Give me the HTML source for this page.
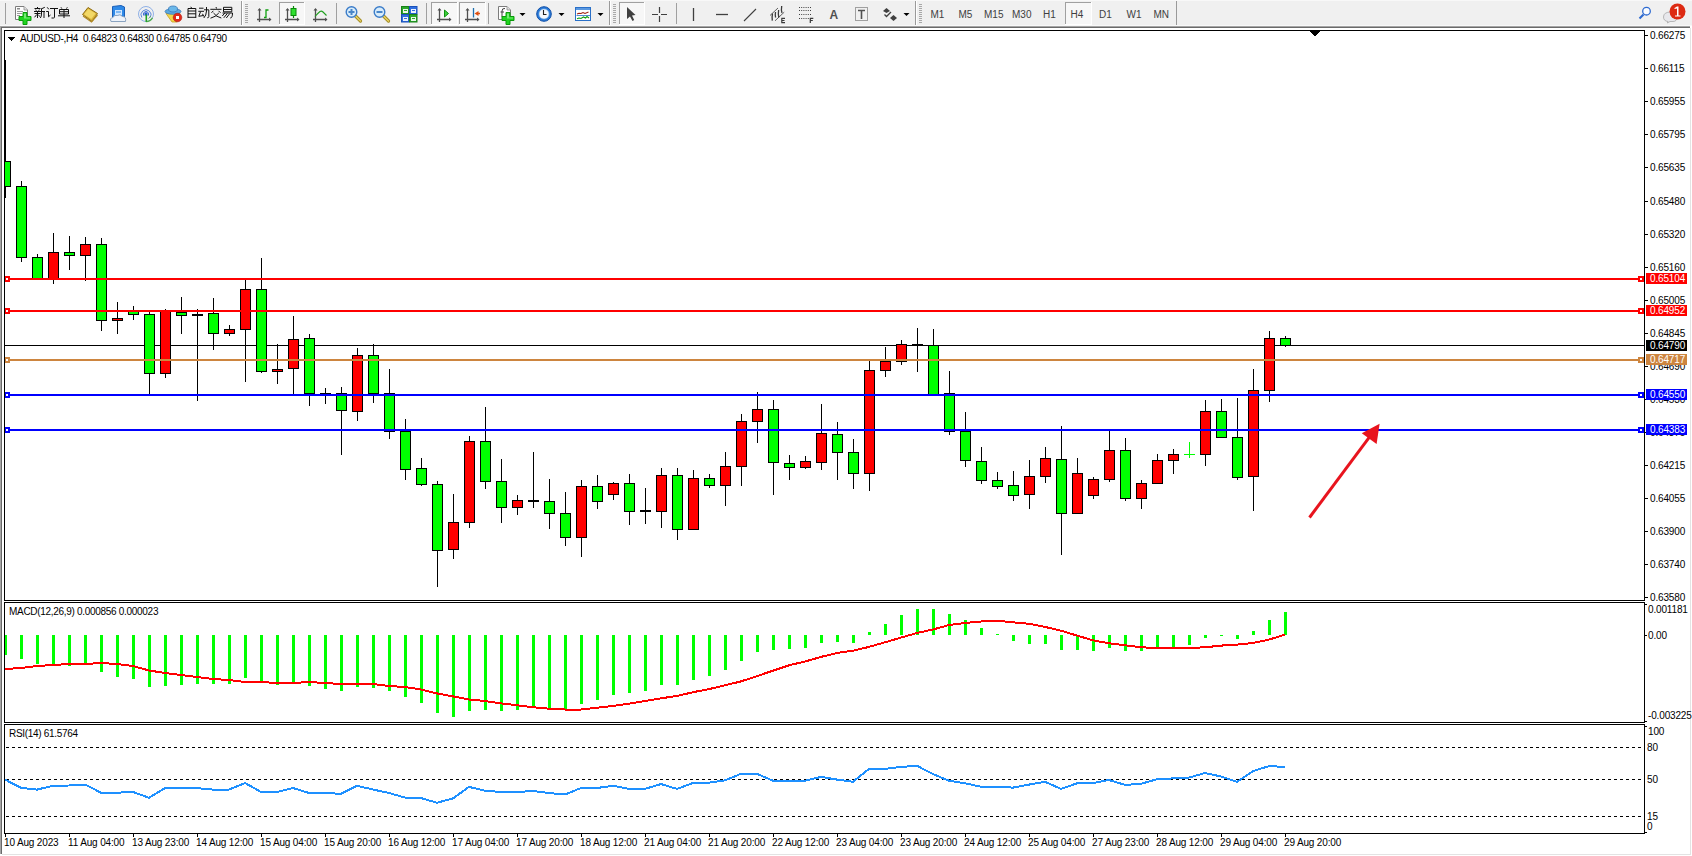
<!DOCTYPE html>
<html><head><meta charset="utf-8"><style>
html,body{margin:0;padding:0;}
body{width:1692px;height:856px;position:relative;overflow:hidden;background:#fff;font-family:"Liberation Sans",sans-serif;}
#tb{position:absolute;left:0;top:0;width:1692px;height:26px;background:#f0f0f0;}
.t{position:absolute;font-size:10px;line-height:12px;letter-spacing:-0.15px;color:#000;white-space:nowrap;}
.w{color:#fff;}
svg{position:absolute;left:0;top:0;}
</style></head><body>
<div id="tb"><svg width="1692" height="26" style="position:absolute;left:0;top:0"><rect x="0" y="0" width="1692" height="1" fill="#f8f8f8"/><rect x="5" y="3" width="1" height="21" fill="#a0a0a0"/><path d="M15.5 6.5 H24 L27.5 10 V19.5 H15.5 Z" fill="#fdfdfd" stroke="#7c7c7c" stroke-width="1"/><path d="M24 6.5 V10 H27.5" fill="#e0e0e0" stroke="#8a8a8a" stroke-width="0.8"/><rect x="17" y="8" width="3" height="1.5" fill="#8a8a8a"/><rect x="17" y="11" width="6" height="1" fill="#9a9a9a"/><rect x="17" y="13" width="5" height="1" fill="#9a9a9a"/><rect x="17" y="15" width="3" height="1" fill="#9a9a9a"/><path d="M23 12.5 H27 V16.5 H31 V20.5 H27 V24.5 H23 V20.5 H19 V16.5 H23 Z" fill="#1fd41f" stroke="#0b9a0b" stroke-width="1"/><path d="M24 13.5 H26 V17.5 H30 V18.5 H24 Z" fill="#8cf08c" opacity="0.8"/><path d="M37.5 7 V8.5 M34.5 8.5 H40.5 M35.7 9.5 L36.3 10.8 M39.3 9.5 L38.7 10.8 M34 11.5 H41 M34.5 13.5 H40.5 M37.5 11.5 V18 M36.8 14.5 L34.5 17.3 M38.3 15 L40.3 16.8 M44.8 7.3 L41.5 8.8 M41.5 8.5 V14 Q41.5 16.8 40.3 18 M41.5 11.5 H45 M44 11.5 V18 M47.2 7.3 L48.8 9.3 M46.2 11.5 H48.5 V16.8 L50.5 15 M50 8.5 H58 M54.5 8.5 V17.3 Q54.5 18 53.5 18 H51.5 M61 7.3 L61.8 8.6 M67.3 7.3 L66.5 8.6 M59.5 9.5 H68.5 V14 H59.5 Z M59.5 11.7 H68.5 M64 9.5 V18 M58 15.8 H70" stroke="#111" stroke-width="1" fill="none"/><path d="M82.5 14.5 L88 7.5 L97.5 13.5 L92 21.5 Z" fill="#d9b43a" stroke="#8f6c12" stroke-width="1"/><path d="M84 14.3 L88.3 9 L95.5 13.5 L91.3 19 Z" fill="#f2d867"/><path d="M83 16 L91.5 22 L97.5 15" stroke="#b08a28" stroke-width="1.2" fill="none"/><path d="M112.5 6.5 L121 5.5 L124.5 7 V17 H112.5 Z" fill="#2f8ae8" stroke="#1b5fb8" stroke-width="1"/><rect x="115" y="10" width="7" height="5" fill="#cfe6ff"/><rect x="116" y="11.5" width="5" height="1" fill="#2f8ae8"/><path d="M111 21.5 Q109.5 18 113 17.5 Q114 14.5 117.5 15.5 Q120 13.5 122.5 16.5 Q126.5 16.5 125.5 21.5 Z" fill="#eef3fa" stroke="#8aa3c0" stroke-width="1"/><g fill="none"><circle cx="146" cy="14" r="7.5" stroke="#8fb0e6" stroke-width="1"/><path d="M152.5 17.8 A7.5 7.5 0 0 1 146 21.5" stroke="#4fae4f" stroke-width="1.4"/><path d="M141.8 17.5 A5 5 0 1 1 150.2 17.5" stroke="#5c88da" stroke-width="1"/><path d="M150.6 16 A5 5 0 0 1 148.5 18.4" stroke="#5fae5f" stroke-width="1"/><path d="M144 15.8 A2.6 2.6 0 1 1 148 15.8" stroke="#3b6fd0" stroke-width="1"/></g><circle cx="146" cy="14" r="1.7" fill="#2a5ad0"/><path d="M146.3 14.5 V21.8" stroke="#20a020" stroke-width="1.6" fill="none"/><path d="M166 13.5 L172 22 H177 L180 13.5 Z" fill="#f2d64a" stroke="#c9a020" stroke-width="0.8"/><ellipse cx="173" cy="11.5" rx="8" ry="2.8" fill="#5aa8e0" stroke="#3a78b8" stroke-width="0.8"/><ellipse cx="173" cy="9" rx="4.5" ry="3" fill="#6ab8ea" stroke="#3a78b8" stroke-width="0.8"/><circle cx="177.5" cy="17.5" r="4.3" fill="#e02a1a" stroke="#b01a10" stroke-width="0.6"/><rect x="176" y="16" width="3" height="3" fill="#fff"/><path d="M190.8 6.8 L191.5 8 M188 8.5 H195.8 V18 M188 8.5 V18 M188 11 H195.8 M188 13.8 H195.8 M188 17.3 H195.8 M199 8.2 H203.5 M198.3 11.3 H204 M200.5 11.8 L198.8 16.3 L203.5 15.5 M202.5 13.8 L203.8 16.5 M204 9.8 H208.8 V16.5 Q208.8 17.8 207.3 17.8 M206.5 7 V11 Q206.3 15.5 203.8 18 M216 7 L216.5 8.5 M210.3 9.3 H221.5 M213.3 10.8 L211.5 12.8 M218.5 10.8 L220.5 12.8 M213.5 13 Q216 16.8 221.3 18 M218.8 13 Q216 16.8 210.5 18.2 M223.5 7.3 H231.8 V11.8 H223.5 Z M223.5 9.5 H231.8 M222.5 13 H232.5 Q232.5 18 230.3 18 M224.8 13 L222.3 16 M227.3 13.5 L223.8 17.8 M229.8 13.5 L226.3 18" stroke="#111" stroke-width="1" fill="none"/><rect x="241" y="1" width="1" height="24" fill="#9a9a9a"/><rect x="242" y="1" width="1" height="24" fill="#ffffff"/><rect x="245" y="4" width="3" height="1" fill="#a8a8a8"/><rect x="245" y="6" width="3" height="1" fill="#a8a8a8"/><rect x="245" y="8" width="3" height="1" fill="#a8a8a8"/><rect x="245" y="10" width="3" height="1" fill="#a8a8a8"/><rect x="245" y="12" width="3" height="1" fill="#a8a8a8"/><rect x="245" y="14" width="3" height="1" fill="#a8a8a8"/><rect x="245" y="16" width="3" height="1" fill="#a8a8a8"/><rect x="245" y="18" width="3" height="1" fill="#a8a8a8"/><rect x="245" y="20" width="3" height="1" fill="#a8a8a8"/><rect x="245" y="22" width="3" height="1" fill="#a8a8a8"/><path d="M259.5 9 V22 M257 19.5 H270.5" stroke="#505050" stroke-width="1.3" fill="none"/><path d="M257.5 10.5 L259.5 8 L261.5 10.5 Z M269 17.5 L271.5 19.5 L269 21.5 Z" fill="#505050"/><path d="M264 17.5 H266 V10 H268.5" stroke="#10a010" stroke-width="1.3" fill="none"/><rect x="279" y="2" width="25" height="22" fill="#f7f7f7"/><rect x="279" y="2" width="25" height="1" fill="#a0a0a0"/><rect x="279" y="2" width="1" height="22" fill="#a0a0a0"/><rect x="304" y="2" width="1" height="22" fill="#ffffff"/><rect x="279" y="24" width="26" height="1" fill="#ffffff"/><path d="M287.5 9 V22 M285 19.5 H298.5" stroke="#505050" stroke-width="1.3" fill="none"/><path d="M285.5 10.5 L287.5 8 L289.5 10.5 Z M297 17.5 L299.5 19.5 L297 21.5 Z" fill="#505050"/><path d="M293.5 6 V18" stroke="#0a8a0a" stroke-width="1.2" fill="none"/><rect x="291" y="8.5" width="5" height="7" fill="#2ee02e" stroke="#0a8a0a" stroke-width="1"/><path d="M315.5 9 V22 M313 19.5 H326.5" stroke="#505050" stroke-width="1.3" fill="none"/><path d="M313.5 10.5 L315.5 8 L317.5 10.5 Z M325 17.5 L327.5 19.5 L325 21.5 Z" fill="#505050"/><path d="M315 16.5 Q318 13 320 11.5 Q321.5 10.5 323 12 Q325 14 326.5 15.5" stroke="#20a020" stroke-width="1.1" fill="none"/><rect x="336" y="3" width="1" height="21" fill="#a0a0a0"/><path d="M355.0 15.5 L360.5 21" stroke="#a08a20" stroke-width="3.2" stroke-linecap="round"/><path d="M355.0 15.5 L360.5 21" stroke="#e8d060" stroke-width="1.6" stroke-linecap="round"/><circle cx="351.5" cy="12" r="5.3" fill="#d8ecfa" stroke="#3b7cc9" stroke-width="1.4"/><rect x="348.5" y="11" width="6" height="2" fill="#4a86c8"/><rect x="350.5" y="9" width="2" height="6" fill="#4a86c8"/><path d="M383.0 15.5 L388.5 21" stroke="#a08a20" stroke-width="3.2" stroke-linecap="round"/><path d="M383.0 15.5 L388.5 21" stroke="#e8d060" stroke-width="1.6" stroke-linecap="round"/><circle cx="379.5" cy="12" r="5.3" fill="#d8ecfa" stroke="#3b7cc9" stroke-width="1.4"/><rect x="376.5" y="11" width="6" height="2" fill="#4a86c8"/><rect x="401.5" y="6.5" width="7.5" height="7.5" fill="#2aa82a" stroke="#188018" stroke-width="1"/><rect x="403" y="9" width="5" height="4" fill="#ffffff" opacity="0.9"/><rect x="404" y="10" width="3" height="1" fill="#2aa82a"/><rect x="409.5" y="6.5" width="7.5" height="7.5" fill="#2f6ee0" stroke="#1a50b8" stroke-width="1"/><rect x="411" y="9" width="5" height="4" fill="#ffffff" opacity="0.9"/><rect x="412" y="10" width="3" height="1" fill="#2f6ee0"/><rect x="401.5" y="14.5" width="7.5" height="7.5" fill="#2f6ee0" stroke="#1a50b8" stroke-width="1"/><rect x="403" y="17" width="5" height="4" fill="#ffffff" opacity="0.9"/><rect x="404" y="18" width="3" height="1" fill="#2f6ee0"/><rect x="409.5" y="14.5" width="7.5" height="7.5" fill="#2aa82a" stroke="#188018" stroke-width="1"/><rect x="411" y="17" width="5" height="4" fill="#ffffff" opacity="0.9"/><rect x="412" y="18" width="3" height="1" fill="#2aa82a"/><rect x="426" y="3" width="1" height="21" fill="#a0a0a0"/><rect x="431" y="2" width="26" height="22" fill="#f7f7f7"/><rect x="431" y="2" width="26" height="1" fill="#a0a0a0"/><rect x="431" y="2" width="1" height="22" fill="#a0a0a0"/><rect x="457" y="2" width="1" height="22" fill="#ffffff"/><rect x="431" y="24" width="27" height="1" fill="#ffffff"/><path d="M439.5 9 V22 M437 19.5 H450.5" stroke="#505050" stroke-width="1.3" fill="none"/><path d="M437.5 10.5 L439.5 8 L441.5 10.5 Z M449 17.5 L451.5 19.5 L449 21.5 Z" fill="#505050"/><path d="M444.5 10 L448.5 13.5 L444.5 17 Z" fill="#3ad03a" stroke="#109010" stroke-width="1"/><rect x="459" y="2" width="26" height="22" fill="#f7f7f7"/><rect x="459" y="2" width="26" height="1" fill="#a0a0a0"/><rect x="459" y="2" width="1" height="22" fill="#a0a0a0"/><rect x="485" y="2" width="1" height="22" fill="#ffffff"/><rect x="459" y="24" width="27" height="1" fill="#ffffff"/><path d="M467.5 9 V22 M465 19.5 H478.5" stroke="#505050" stroke-width="1.3" fill="none"/><path d="M465.5 10.5 L467.5 8 L469.5 10.5 Z M477 17.5 L479.5 19.5 L477 21.5 Z" fill="#505050"/><path d="M473.5 8 V17.5" stroke="#1f70b0" stroke-width="1.3" fill="none"/><path d="M474.5 13.5 L478.5 11 V12.8 H480 V14.2 H478.5 V16 Z" fill="#e05010"/><rect x="488" y="3" width="1" height="21" fill="#a0a0a0"/><path d="M498.5 6.5 H507 L510.5 10 V19.5 H498.5 Z" fill="#fdfdfd" stroke="#7c7c7c" stroke-width="1"/><path d="M507 6.5 V10 H510.5" fill="#e0e0e0" stroke="#8a8a8a" stroke-width="0.8"/><path d="M505 8.5 Q502 8 502 11 V17 M500.5 12 H504" stroke="#404040" stroke-width="1" fill="none"/><path d="M506 12.5 H510 V16.5 H514 V20.5 H510 V24.5 H506 V20.5 H502 V16.5 H506 Z" fill="#1fd41f" stroke="#0b9a0b" stroke-width="1"/><path d="M507 13.5 H509 V17.5 H513 V18.5 H507 Z" fill="#8cf08c" opacity="0.8"/><path d="M519.5 13 H525.5 L522.5 16 Z" fill="#000"/><circle cx="544" cy="14" r="7.3" fill="#2a7ad8" stroke="#0f4fa8" stroke-width="1"/><circle cx="544" cy="14" r="5" fill="#f4f8fc" stroke="#8ab8e8" stroke-width="0.6"/><path d="M543.5 10 V14.5 H546.5" stroke="#202020" stroke-width="1.1" fill="none"/><path d="M558.5 13 H564.5 L561.5 16 Z" fill="#000"/><rect x="575.5" y="7.5" width="15" height="13" fill="#ffffff" stroke="#2a70c8" stroke-width="1"/><rect x="576" y="8" width="14" height="2" fill="#5a98e0"/><path d="M577 14 L579 13.3 L581 13.5 L583 12.5 L585 13.5 L588.5 12" stroke="#a02010" stroke-width="1.1" fill="none"/><path d="M576.5 15.5 H590" stroke="#2a70c8" stroke-width="0.8" fill="none"/><path d="M577 18.8 L579 18 L581 18.5 L583.5 17 L585.5 18 L587 16.5 L589 18" stroke="#10a010" stroke-width="1.1" fill="none"/><path d="M597.5 13 H603.5 L600.5 16 Z" fill="#000"/><rect x="609" y="1" width="1" height="24" fill="#9a9a9a"/><rect x="610" y="1" width="1" height="24" fill="#ffffff"/><rect x="613" y="4" width="3" height="1" fill="#a8a8a8"/><rect x="613" y="6" width="3" height="1" fill="#a8a8a8"/><rect x="613" y="8" width="3" height="1" fill="#a8a8a8"/><rect x="613" y="10" width="3" height="1" fill="#a8a8a8"/><rect x="613" y="12" width="3" height="1" fill="#a8a8a8"/><rect x="613" y="14" width="3" height="1" fill="#a8a8a8"/><rect x="613" y="16" width="3" height="1" fill="#a8a8a8"/><rect x="613" y="18" width="3" height="1" fill="#a8a8a8"/><rect x="613" y="20" width="3" height="1" fill="#a8a8a8"/><rect x="613" y="22" width="3" height="1" fill="#a8a8a8"/><rect x="619" y="2" width="25" height="22" fill="#f7f7f7"/><rect x="619" y="2" width="25" height="1" fill="#a0a0a0"/><rect x="619" y="2" width="1" height="22" fill="#a0a0a0"/><rect x="644" y="2" width="1" height="22" fill="#ffffff"/><rect x="619" y="24" width="26" height="1" fill="#ffffff"/><path d="M627 7 V19 L630 16.5 L632.5 21 L634.2 20 L632 15.5 L635.5 15 Z" fill="#404040"/><path d="M652 14.5 H658 M661 14.5 H667 M659.5 7 V13 M659.5 16 V22" stroke="#404040" stroke-width="1.2" fill="none"/><rect x="676" y="3" width="1" height="21" fill="#a0a0a0"/><path d="M693.5 8 V21" stroke="#404040" stroke-width="1.3" fill="none"/><path d="M716 14.5 H728" stroke="#404040" stroke-width="1.3" fill="none"/><path d="M744 21 L756 9" stroke="#404040" stroke-width="1.1" fill="none"/><path d="M770 15.5 L778 8 M775 20.8 L784.2 12.2" stroke="#505050" stroke-width="0.9" fill="none"/><path d="M772.5 13.5 Q771.8 17 772.3 20.7 M775.5 12 Q775 15 775.6 17.5 M778.6 10 Q778 14 778.8 17.5 M781.7 6 Q781 10 782 13" stroke="#3a3a3a" stroke-width="1.3" fill="none"/><path d="M781.3 18.3 H785 M781.3 20.5 H784.5 M781.3 22.7 H785 M781.8 18.3 V22.7" stroke="#3a3a3a" stroke-width="1.2" fill="none"/><path d="M799 7.5 H812" stroke="#404040" stroke-width="1" stroke-dasharray="1 1.2"/><path d="M799 10.5 H812" stroke="#404040" stroke-width="1" stroke-dasharray="1 1.2"/><path d="M799 14.5 H812" stroke="#404040" stroke-width="1" stroke-dasharray="1 1.2"/><path d="M799 18.5 H812" stroke="#404040" stroke-width="1" stroke-dasharray="1 1.2"/><path d="M809.8 18.3 H813.3 M809.8 20.5 H812.8 M810.3 18.3 V23" stroke="#3a3a3a" stroke-width="1.2" fill="none"/><text x="829.5" y="19" font-family="Liberation Sans" font-size="12" font-weight="bold" fill="#505050">A</text><rect x="855.5" y="7.5" width="12" height="13" fill="none" stroke="#505050" stroke-width="1" stroke-dasharray="1 1"/><path d="M858 10.5 H865 M861.5 10.5 V19" stroke="#505050" stroke-width="1.6"/><path d="M883 11 L886.5 8 L890 11 L886.5 13 Z" fill="#404040"/><path d="M890 18 L893.5 15 L897 18 L893.5 21 Z" fill="#404040"/><path d="M884.5 14.5 L886.5 16.5 L891 12" stroke="#404040" stroke-width="1.3" fill="none"/><path d="M903.5 13 H909.5 L906.5 16 Z" fill="#000"/><rect x="915" y="1" width="1" height="24" fill="#9a9a9a"/><rect x="916" y="1" width="1" height="24" fill="#ffffff"/><rect x="919" y="4" width="3" height="1" fill="#a8a8a8"/><rect x="919" y="6" width="3" height="1" fill="#a8a8a8"/><rect x="919" y="8" width="3" height="1" fill="#a8a8a8"/><rect x="919" y="10" width="3" height="1" fill="#a8a8a8"/><rect x="919" y="12" width="3" height="1" fill="#a8a8a8"/><rect x="919" y="14" width="3" height="1" fill="#a8a8a8"/><rect x="919" y="16" width="3" height="1" fill="#a8a8a8"/><rect x="919" y="18" width="3" height="1" fill="#a8a8a8"/><rect x="919" y="20" width="3" height="1" fill="#a8a8a8"/><rect x="919" y="22" width="3" height="1" fill="#a8a8a8"/><rect x="1065" y="2" width="26" height="22" fill="#f7f7f7"/><rect x="1065" y="2" width="26" height="1" fill="#a0a0a0"/><rect x="1065" y="2" width="1" height="22" fill="#a0a0a0"/><rect x="1091" y="2" width="1" height="22" fill="#ffffff"/><rect x="1065" y="24" width="27" height="1" fill="#ffffff"/><text x="930.5" y="18.3" font-family="Liberation Sans" font-size="10" letter-spacing="0" fill="#404040">M1</text><text x="958.5" y="18.3" font-family="Liberation Sans" font-size="10" letter-spacing="0" fill="#404040">M5</text><text x="984" y="18.3" font-family="Liberation Sans" font-size="10" letter-spacing="0" fill="#404040">M15</text><text x="1012" y="18.3" font-family="Liberation Sans" font-size="10" letter-spacing="0" fill="#404040">M30</text><text x="1043" y="18.3" font-family="Liberation Sans" font-size="10" letter-spacing="0" fill="#404040">H1</text><text x="1070.5" y="18.3" font-family="Liberation Sans" font-size="10" letter-spacing="0" fill="#404040">H4</text><text x="1099" y="18.3" font-family="Liberation Sans" font-size="10" letter-spacing="0" fill="#404040">D1</text><text x="1126.5" y="18.3" font-family="Liberation Sans" font-size="10" letter-spacing="0" fill="#404040">W1</text><text x="1153.5" y="18.3" font-family="Liberation Sans" font-size="10" letter-spacing="0" fill="#404040">MN</text><rect x="1176" y="1" width="1" height="24" fill="#9a9a9a"/><circle cx="1646.5" cy="11.2" r="3.8" fill="#fafcff" stroke="#2e6ad0" stroke-width="1.3"/><path d="M1643.5 14.5 L1639.5 18.5" stroke="#2e6ad0" stroke-width="2.2" fill="none"/><path d="M1668 21.5 L1667.3 23 L1670 21.5 H1673 Q1677 21.5 1677 17 Q1677 12 1671 12 Q1663.5 12 1663.5 17 Q1663.5 21 1668 21.5 Z" fill="#e8e8ec" stroke="#a8a8a8" stroke-width="0.8"/><circle cx="1677.5" cy="11.5" r="8" fill="#dd2a12"/><path d="M1674.5 8 L1677 6.5 H1678.5 V15.5 H1680.5 V16.5 H1675 V15.5 H1677 V8.5 L1674.5 9 Z" fill="#fff"/></svg></div>
<div style="position:absolute;left:0;top:25px;width:1692px;height:1px;background:#f8f8f8"></div>
<div style="position:absolute;left:0;top:26px;width:1690px;height:1px;background:#a5a5a5"></div>
<div style="position:absolute;left:0;top:27px;width:1690px;height:1px;background:#6a6a6a"></div>
<div style="position:absolute;left:0;top:26px;width:1px;height:828px;background:#a5a5a5"></div>
<div style="position:absolute;left:1px;top:27px;width:1px;height:827px;background:#6a6a6a"></div>
<div style="position:absolute;left:1690px;top:28px;width:1px;height:827px;background:#e3e3e3"></div>
<div style="position:absolute;left:2px;top:854px;width:1689px;height:1px;background:#e3e3e3"></div>
<svg width="1692" height="856" viewBox="0 0 1692 856" shape-rendering="crispEdges">
<defs><clipPath id="cm"><rect x="5" y="31" width="1639" height="569"/></clipPath><clipPath id="cd"><rect x="5" y="603" width="1639" height="119"/></clipPath><clipPath id="cr"><rect x="5" y="725" width="1639" height="108"/></clipPath></defs><rect x="4" y="30" width="1641" height="1" fill="#000"/><rect x="4" y="600" width="1641" height="1" fill="#000"/><rect x="4" y="30" width="1" height="571" fill="#000"/><rect x="1644" y="30" width="1" height="571" fill="#000"/><rect x="4" y="602" width="1641" height="1" fill="#000"/><rect x="4" y="722" width="1641" height="1" fill="#000"/><rect x="4" y="602" width="1" height="121" fill="#000"/><rect x="1644" y="602" width="1" height="121" fill="#000"/><rect x="4" y="724" width="1641" height="1" fill="#000"/><rect x="4" y="833" width="1641" height="1" fill="#000"/><rect x="4" y="724" width="1" height="110" fill="#000"/><rect x="1644" y="724" width="1" height="110" fill="#000"/><g clip-path="url(#cm)"><rect x="5" y="345" width="1639" height="1" fill="#000"/><rect x="5" y="60" width="1" height="138" fill="#000"/><rect x="0" y="161" width="11" height="26" fill="#000"/><rect x="1" y="162" width="9" height="24" fill="#00ff00"/><rect x="21" y="181" width="1" height="81" fill="#000"/><rect x="16" y="186" width="11" height="72" fill="#000"/><rect x="17" y="187" width="9" height="70" fill="#00ff00"/><rect x="37" y="254" width="1" height="25" fill="#000"/><rect x="32" y="257" width="11" height="22" fill="#000"/><rect x="33" y="258" width="9" height="20" fill="#00ff00"/><rect x="53" y="233" width="1" height="51" fill="#000"/><rect x="48" y="252" width="11" height="27" fill="#000"/><rect x="49" y="253" width="9" height="25" fill="#ff0000"/><rect x="69" y="236" width="1" height="34" fill="#000"/><rect x="64" y="252" width="11" height="4" fill="#000"/><rect x="65" y="253" width="9" height="2" fill="#00ff00"/><rect x="85" y="237" width="1" height="44" fill="#000"/><rect x="80" y="244" width="11" height="12" fill="#000"/><rect x="81" y="245" width="9" height="10" fill="#ff0000"/><rect x="101" y="238" width="1" height="93" fill="#000"/><rect x="96" y="244" width="11" height="77" fill="#000"/><rect x="97" y="245" width="9" height="75" fill="#00ff00"/><rect x="117" y="302" width="1" height="32" fill="#000"/><rect x="112" y="318" width="11" height="3" fill="#000"/><rect x="113" y="319" width="9" height="1" fill="#ff0000"/><rect x="133" y="306" width="1" height="14" fill="#000"/><rect x="128" y="311" width="11" height="4" fill="#000"/><rect x="129" y="312" width="9" height="2" fill="#00ff00"/><rect x="149" y="312" width="1" height="83" fill="#000"/><rect x="144" y="314" width="11" height="60" fill="#000"/><rect x="145" y="315" width="9" height="58" fill="#00ff00"/><rect x="165" y="309" width="1" height="69" fill="#000"/><rect x="160" y="311" width="11" height="63" fill="#000"/><rect x="161" y="312" width="9" height="61" fill="#ff0000"/><rect x="181" y="297" width="1" height="37" fill="#000"/><rect x="176" y="312" width="11" height="4" fill="#000"/><rect x="177" y="313" width="9" height="2" fill="#00ff00"/><rect x="197" y="309" width="1" height="92" fill="#000"/><rect x="192" y="314" width="11" height="2" fill="#000"/><rect x="213" y="298" width="1" height="52" fill="#000"/><rect x="208" y="313" width="11" height="21" fill="#000"/><rect x="209" y="314" width="9" height="19" fill="#00ff00"/><rect x="229" y="325" width="1" height="11" fill="#000"/><rect x="224" y="329" width="11" height="5" fill="#000"/><rect x="225" y="330" width="9" height="3" fill="#ff0000"/><rect x="245" y="280" width="1" height="102" fill="#000"/><rect x="240" y="289" width="11" height="41" fill="#000"/><rect x="241" y="290" width="9" height="39" fill="#ff0000"/><rect x="261" y="258" width="1" height="115" fill="#000"/><rect x="256" y="289" width="11" height="83" fill="#000"/><rect x="257" y="290" width="9" height="81" fill="#00ff00"/><rect x="277" y="344" width="1" height="40" fill="#000"/><rect x="272" y="369" width="11" height="3" fill="#000"/><rect x="273" y="370" width="9" height="1" fill="#ff0000"/><rect x="293" y="316" width="1" height="78" fill="#000"/><rect x="288" y="339" width="11" height="30" fill="#000"/><rect x="289" y="340" width="9" height="28" fill="#ff0000"/><rect x="309" y="334" width="1" height="72" fill="#000"/><rect x="304" y="338" width="11" height="56" fill="#000"/><rect x="305" y="339" width="9" height="54" fill="#00ff00"/><rect x="325" y="388" width="1" height="16" fill="#000"/><rect x="320" y="393" width="11" height="2" fill="#000"/><rect x="341" y="387" width="1" height="68" fill="#000"/><rect x="336" y="393" width="11" height="18" fill="#000"/><rect x="337" y="394" width="9" height="16" fill="#00ff00"/><rect x="357" y="348" width="1" height="73" fill="#000"/><rect x="352" y="355" width="11" height="57" fill="#000"/><rect x="353" y="356" width="9" height="55" fill="#ff0000"/><rect x="373" y="344" width="1" height="59" fill="#000"/><rect x="368" y="355" width="11" height="39" fill="#000"/><rect x="369" y="356" width="9" height="37" fill="#00ff00"/><rect x="389" y="369" width="1" height="70" fill="#000"/><rect x="384" y="393" width="11" height="39" fill="#000"/><rect x="385" y="394" width="9" height="37" fill="#00ff00"/><rect x="405" y="419" width="1" height="61" fill="#000"/><rect x="400" y="431" width="11" height="39" fill="#000"/><rect x="401" y="432" width="9" height="37" fill="#00ff00"/><rect x="421" y="458" width="1" height="28" fill="#000"/><rect x="416" y="468" width="11" height="17" fill="#000"/><rect x="417" y="469" width="9" height="15" fill="#00ff00"/><rect x="437" y="481" width="1" height="106" fill="#000"/><rect x="432" y="484" width="11" height="67" fill="#000"/><rect x="433" y="485" width="9" height="65" fill="#00ff00"/><rect x="453" y="494" width="1" height="65" fill="#000"/><rect x="448" y="522" width="11" height="28" fill="#000"/><rect x="449" y="523" width="9" height="26" fill="#ff0000"/><rect x="469" y="436" width="1" height="92" fill="#000"/><rect x="464" y="441" width="11" height="82" fill="#000"/><rect x="465" y="442" width="9" height="80" fill="#ff0000"/><rect x="485" y="407" width="1" height="82" fill="#000"/><rect x="480" y="441" width="11" height="41" fill="#000"/><rect x="481" y="442" width="9" height="39" fill="#00ff00"/><rect x="501" y="459" width="1" height="64" fill="#000"/><rect x="496" y="481" width="11" height="27" fill="#000"/><rect x="497" y="482" width="9" height="25" fill="#00ff00"/><rect x="517" y="495" width="1" height="20" fill="#000"/><rect x="512" y="500" width="11" height="8" fill="#000"/><rect x="513" y="501" width="9" height="6" fill="#ff0000"/><rect x="533" y="452" width="1" height="56" fill="#000"/><rect x="528" y="500" width="11" height="2" fill="#000"/><rect x="549" y="479" width="1" height="50" fill="#000"/><rect x="544" y="501" width="11" height="13" fill="#000"/><rect x="545" y="502" width="9" height="11" fill="#00ff00"/><rect x="565" y="492" width="1" height="54" fill="#000"/><rect x="560" y="513" width="11" height="25" fill="#000"/><rect x="561" y="514" width="9" height="23" fill="#00ff00"/><rect x="581" y="480" width="1" height="77" fill="#000"/><rect x="576" y="486" width="11" height="52" fill="#000"/><rect x="577" y="487" width="9" height="50" fill="#ff0000"/><rect x="597" y="475" width="1" height="34" fill="#000"/><rect x="592" y="486" width="11" height="16" fill="#000"/><rect x="593" y="487" width="9" height="14" fill="#00ff00"/><rect x="613" y="482" width="1" height="18" fill="#000"/><rect x="608" y="483" width="11" height="12" fill="#000"/><rect x="609" y="484" width="9" height="10" fill="#ff0000"/><rect x="629" y="474" width="1" height="51" fill="#000"/><rect x="624" y="483" width="11" height="29" fill="#000"/><rect x="625" y="484" width="9" height="27" fill="#00ff00"/><rect x="645" y="488" width="1" height="36" fill="#000"/><rect x="640" y="510" width="11" height="2" fill="#000"/><rect x="661" y="468" width="1" height="60" fill="#000"/><rect x="656" y="475" width="11" height="37" fill="#000"/><rect x="657" y="476" width="9" height="35" fill="#ff0000"/><rect x="677" y="468" width="1" height="72" fill="#000"/><rect x="672" y="475" width="11" height="55" fill="#000"/><rect x="673" y="476" width="9" height="53" fill="#00ff00"/><rect x="693" y="470" width="1" height="60" fill="#000"/><rect x="688" y="478" width="11" height="52" fill="#000"/><rect x="689" y="479" width="9" height="50" fill="#ff0000"/><rect x="709" y="474" width="1" height="14" fill="#000"/><rect x="704" y="478" width="11" height="8" fill="#000"/><rect x="705" y="479" width="9" height="6" fill="#00ff00"/><rect x="725" y="452" width="1" height="54" fill="#000"/><rect x="720" y="466" width="11" height="20" fill="#000"/><rect x="721" y="467" width="9" height="18" fill="#ff0000"/><rect x="741" y="414" width="1" height="72" fill="#000"/><rect x="736" y="421" width="11" height="46" fill="#000"/><rect x="737" y="422" width="9" height="44" fill="#ff0000"/><rect x="757" y="392" width="1" height="51" fill="#000"/><rect x="752" y="409" width="11" height="13" fill="#000"/><rect x="753" y="410" width="9" height="11" fill="#ff0000"/><rect x="773" y="400" width="1" height="95" fill="#000"/><rect x="768" y="409" width="11" height="54" fill="#000"/><rect x="769" y="410" width="9" height="52" fill="#00ff00"/><rect x="789" y="455" width="1" height="25" fill="#000"/><rect x="784" y="463" width="11" height="5" fill="#000"/><rect x="785" y="464" width="9" height="3" fill="#00ff00"/><rect x="805" y="456" width="1" height="13" fill="#000"/><rect x="800" y="461" width="11" height="7" fill="#000"/><rect x="801" y="462" width="9" height="5" fill="#ff0000"/><rect x="821" y="404" width="1" height="66" fill="#000"/><rect x="816" y="433" width="11" height="30" fill="#000"/><rect x="817" y="434" width="9" height="28" fill="#ff0000"/><rect x="837" y="422" width="1" height="58" fill="#000"/><rect x="832" y="434" width="11" height="19" fill="#000"/><rect x="833" y="435" width="9" height="17" fill="#00ff00"/><rect x="853" y="439" width="1" height="50" fill="#000"/><rect x="848" y="452" width="11" height="22" fill="#000"/><rect x="849" y="453" width="9" height="20" fill="#00ff00"/><rect x="869" y="361" width="1" height="130" fill="#000"/><rect x="864" y="370" width="11" height="104" fill="#000"/><rect x="865" y="371" width="9" height="102" fill="#ff0000"/><rect x="885" y="347" width="1" height="30" fill="#000"/><rect x="880" y="361" width="11" height="10" fill="#000"/><rect x="881" y="362" width="9" height="8" fill="#ff0000"/><rect x="901" y="340" width="1" height="25" fill="#000"/><rect x="896" y="344" width="11" height="18" fill="#000"/><rect x="897" y="345" width="9" height="16" fill="#ff0000"/><rect x="917" y="328" width="1" height="44" fill="#000"/><rect x="912" y="344" width="11" height="2" fill="#000"/><rect x="933" y="329" width="1" height="66" fill="#000"/><rect x="928" y="345" width="11" height="50" fill="#000"/><rect x="929" y="346" width="9" height="48" fill="#00ff00"/><rect x="949" y="371" width="1" height="64" fill="#000"/><rect x="944" y="393" width="11" height="39" fill="#000"/><rect x="945" y="394" width="9" height="37" fill="#00ff00"/><rect x="965" y="412" width="1" height="55" fill="#000"/><rect x="960" y="431" width="11" height="30" fill="#000"/><rect x="961" y="432" width="9" height="28" fill="#00ff00"/><rect x="981" y="447" width="1" height="37" fill="#000"/><rect x="976" y="461" width="11" height="20" fill="#000"/><rect x="977" y="462" width="9" height="18" fill="#00ff00"/><rect x="997" y="472" width="1" height="17" fill="#000"/><rect x="992" y="480" width="11" height="7" fill="#000"/><rect x="993" y="481" width="9" height="5" fill="#00ff00"/><rect x="1013" y="471" width="1" height="30" fill="#000"/><rect x="1008" y="485" width="11" height="11" fill="#000"/><rect x="1009" y="486" width="9" height="9" fill="#00ff00"/><rect x="1029" y="460" width="1" height="49" fill="#000"/><rect x="1024" y="476" width="11" height="19" fill="#000"/><rect x="1025" y="477" width="9" height="17" fill="#ff0000"/><rect x="1045" y="447" width="1" height="36" fill="#000"/><rect x="1040" y="458" width="11" height="19" fill="#000"/><rect x="1041" y="459" width="9" height="17" fill="#ff0000"/><rect x="1061" y="426" width="1" height="129" fill="#000"/><rect x="1056" y="459" width="11" height="55" fill="#000"/><rect x="1057" y="460" width="9" height="53" fill="#00ff00"/><rect x="1077" y="458" width="1" height="56" fill="#000"/><rect x="1072" y="473" width="11" height="41" fill="#000"/><rect x="1073" y="474" width="9" height="39" fill="#ff0000"/><rect x="1093" y="477" width="1" height="22" fill="#000"/><rect x="1088" y="479" width="11" height="17" fill="#000"/><rect x="1089" y="480" width="9" height="15" fill="#ff0000"/><rect x="1109" y="431" width="1" height="51" fill="#000"/><rect x="1104" y="450" width="11" height="30" fill="#000"/><rect x="1105" y="451" width="9" height="28" fill="#ff0000"/><rect x="1125" y="438" width="1" height="63" fill="#000"/><rect x="1120" y="450" width="11" height="49" fill="#000"/><rect x="1121" y="451" width="9" height="47" fill="#00ff00"/><rect x="1141" y="480" width="1" height="29" fill="#000"/><rect x="1136" y="483" width="11" height="16" fill="#000"/><rect x="1137" y="484" width="9" height="14" fill="#ff0000"/><rect x="1157" y="454" width="1" height="30" fill="#000"/><rect x="1152" y="460" width="11" height="24" fill="#000"/><rect x="1153" y="461" width="9" height="22" fill="#ff0000"/><rect x="1173" y="449" width="1" height="25" fill="#000"/><rect x="1168" y="454" width="11" height="7" fill="#000"/><rect x="1169" y="455" width="9" height="5" fill="#ff0000"/><rect x="1189" y="442" width="1" height="16" fill="#00ff00"/><rect x="1184" y="454" width="11" height="1" fill="#00ff00"/><rect x="1205" y="400" width="1" height="66" fill="#000"/><rect x="1200" y="411" width="11" height="44" fill="#000"/><rect x="1201" y="412" width="9" height="42" fill="#ff0000"/><rect x="1221" y="399" width="1" height="39" fill="#000"/><rect x="1216" y="411" width="11" height="27" fill="#000"/><rect x="1217" y="412" width="9" height="25" fill="#00ff00"/><rect x="1237" y="398" width="1" height="82" fill="#000"/><rect x="1232" y="437" width="11" height="41" fill="#000"/><rect x="1233" y="438" width="9" height="39" fill="#00ff00"/><rect x="1253" y="369" width="1" height="142" fill="#000"/><rect x="1248" y="390" width="11" height="87" fill="#000"/><rect x="1249" y="391" width="9" height="85" fill="#ff0000"/><rect x="1269" y="331" width="1" height="71" fill="#000"/><rect x="1264" y="338" width="11" height="53" fill="#000"/><rect x="1265" y="339" width="9" height="51" fill="#ff0000"/><rect x="1285" y="336" width="1" height="11" fill="#000"/><rect x="1280" y="338" width="11" height="8" fill="#000"/><rect x="1281" y="339" width="9" height="6" fill="#00ff00"/><rect x="10" y="278" width="1628" height="2" fill="#ff0000"/><rect x="4" y="276" width="6" height="6" fill="#ff0000"/><rect x="6" y="278" width="2" height="2" fill="#fff"/><rect x="1638" y="276" width="6" height="6" fill="#ff0000"/><rect x="1640" y="278" width="2" height="2" fill="#fff"/><rect x="10" y="310" width="1628" height="2" fill="#ff0000"/><rect x="4" y="308" width="6" height="6" fill="#ff0000"/><rect x="6" y="310" width="2" height="2" fill="#fff"/><rect x="1638" y="308" width="6" height="6" fill="#ff0000"/><rect x="1640" y="310" width="2" height="2" fill="#fff"/><rect x="10" y="359" width="1628" height="2" fill="#cd853f"/><rect x="4" y="357" width="6" height="6" fill="#cd853f"/><rect x="6" y="359" width="2" height="2" fill="#fff"/><rect x="1638" y="357" width="6" height="6" fill="#cd853f"/><rect x="1640" y="359" width="2" height="2" fill="#fff"/><rect x="10" y="394" width="1628" height="2" fill="#0000ff"/><rect x="4" y="392" width="6" height="6" fill="#0000ff"/><rect x="6" y="394" width="2" height="2" fill="#fff"/><rect x="1638" y="392" width="6" height="6" fill="#0000ff"/><rect x="1640" y="394" width="2" height="2" fill="#fff"/><rect x="10" y="429" width="1628" height="2" fill="#0000ff"/><rect x="4" y="427" width="6" height="6" fill="#0000ff"/><rect x="6" y="429" width="2" height="2" fill="#fff"/><rect x="1638" y="427" width="6" height="6" fill="#0000ff"/><rect x="1640" y="429" width="2" height="2" fill="#fff"/><rect x="1310" y="31" width="10" height="1" fill="#000"/><rect x="1311" y="32" width="8" height="1" fill="#000"/><rect x="1312" y="33" width="6" height="1" fill="#000"/><rect x="1313" y="34" width="4" height="1" fill="#000"/><rect x="1314" y="35" width="2" height="1" fill="#000"/><g fill="#e8141e" stroke="none" shape-rendering="geometricPrecision"><path d="M1308.3 516.6 L1368.2 436.3 L1370.6 438.1 L1310.7 518.4 Z"/><path d="M1379.6 423.8 L1361.8 433.2 L1376.6 444 Z"/></g></g><path d="M8 37 H15 L11.5 41 Z" fill="#000"/><g clip-path="url(#cd)"><rect x="4" y="635" width="3" height="20" fill="#00ff00"/><rect x="20" y="635" width="3" height="24" fill="#00ff00"/><rect x="36" y="635" width="3" height="29" fill="#00ff00"/><rect x="52" y="635" width="3" height="30" fill="#00ff00"/><rect x="68" y="635" width="3" height="31" fill="#00ff00"/><rect x="84" y="635" width="3" height="30" fill="#00ff00"/><rect x="100" y="635" width="3" height="37" fill="#00ff00"/><rect x="116" y="635" width="3" height="42" fill="#00ff00"/><rect x="132" y="635" width="3" height="44" fill="#00ff00"/><rect x="148" y="635" width="3" height="52" fill="#00ff00"/><rect x="164" y="635" width="3" height="51" fill="#00ff00"/><rect x="180" y="635" width="3" height="50" fill="#00ff00"/><rect x="196" y="635" width="3" height="49" fill="#00ff00"/><rect x="212" y="635" width="3" height="49" fill="#00ff00"/><rect x="228" y="635" width="3" height="49" fill="#00ff00"/><rect x="244" y="635" width="3" height="43" fill="#00ff00"/><rect x="260" y="635" width="3" height="47" fill="#00ff00"/><rect x="276" y="635" width="3" height="50" fill="#00ff00"/><rect x="292" y="635" width="3" height="47" fill="#00ff00"/><rect x="308" y="635" width="3" height="51" fill="#00ff00"/><rect x="324" y="635" width="3" height="54" fill="#00ff00"/><rect x="340" y="635" width="3" height="56" fill="#00ff00"/><rect x="356" y="635" width="3" height="52" fill="#00ff00"/><rect x="372" y="635" width="3" height="53" fill="#00ff00"/><rect x="388" y="635" width="3" height="56" fill="#00ff00"/><rect x="404" y="635" width="3" height="62" fill="#00ff00"/><rect x="420" y="635" width="3" height="68" fill="#00ff00"/><rect x="436" y="635" width="3" height="78" fill="#00ff00"/><rect x="452" y="635" width="3" height="82" fill="#00ff00"/><rect x="468" y="635" width="3" height="76" fill="#00ff00"/><rect x="484" y="635" width="3" height="75" fill="#00ff00"/><rect x="500" y="635" width="3" height="76" fill="#00ff00"/><rect x="516" y="635" width="3" height="75" fill="#00ff00"/><rect x="532" y="635" width="3" height="73" fill="#00ff00"/><rect x="548" y="635" width="3" height="73" fill="#00ff00"/><rect x="564" y="635" width="3" height="74" fill="#00ff00"/><rect x="580" y="635" width="3" height="69" fill="#00ff00"/><rect x="596" y="635" width="3" height="65" fill="#00ff00"/><rect x="612" y="635" width="3" height="60" fill="#00ff00"/><rect x="628" y="635" width="3" height="58" fill="#00ff00"/><rect x="644" y="635" width="3" height="56" fill="#00ff00"/><rect x="660" y="635" width="3" height="50" fill="#00ff00"/><rect x="676" y="635" width="3" height="50" fill="#00ff00"/><rect x="692" y="635" width="3" height="45" fill="#00ff00"/><rect x="708" y="635" width="3" height="41" fill="#00ff00"/><rect x="724" y="635" width="3" height="35" fill="#00ff00"/><rect x="740" y="635" width="3" height="26" fill="#00ff00"/><rect x="756" y="635" width="3" height="17" fill="#00ff00"/><rect x="772" y="635" width="3" height="15" fill="#00ff00"/><rect x="788" y="635" width="3" height="14" fill="#00ff00"/><rect x="804" y="635" width="3" height="13" fill="#00ff00"/><rect x="820" y="635" width="3" height="8" fill="#00ff00"/><rect x="836" y="635" width="3" height="7" fill="#00ff00"/><rect x="852" y="635" width="3" height="8" fill="#00ff00"/><rect x="868" y="632" width="3" height="3" fill="#00ff00"/><rect x="884" y="624" width="3" height="11" fill="#00ff00"/><rect x="900" y="615" width="3" height="20" fill="#00ff00"/><rect x="916" y="609" width="3" height="26" fill="#00ff00"/><rect x="932" y="609" width="3" height="26" fill="#00ff00"/><rect x="948" y="614" width="3" height="21" fill="#00ff00"/><rect x="964" y="620" width="3" height="15" fill="#00ff00"/><rect x="980" y="628" width="3" height="7" fill="#00ff00"/><rect x="996" y="634" width="3" height="1" fill="#00ff00"/><rect x="1012" y="635" width="3" height="6" fill="#00ff00"/><rect x="1028" y="635" width="3" height="9" fill="#00ff00"/><rect x="1044" y="635" width="3" height="9" fill="#00ff00"/><rect x="1060" y="635" width="3" height="15" fill="#00ff00"/><rect x="1076" y="635" width="3" height="15" fill="#00ff00"/><rect x="1092" y="635" width="3" height="16" fill="#00ff00"/><rect x="1108" y="635" width="3" height="13" fill="#00ff00"/><rect x="1124" y="635" width="3" height="16" fill="#00ff00"/><rect x="1140" y="635" width="3" height="16" fill="#00ff00"/><rect x="1156" y="635" width="3" height="12" fill="#00ff00"/><rect x="1172" y="635" width="3" height="12" fill="#00ff00"/><rect x="1188" y="635" width="3" height="10" fill="#00ff00"/><rect x="1204" y="635" width="3" height="3" fill="#00ff00"/><rect x="1220" y="635" width="3" height="1" fill="#00ff00"/><rect x="1236" y="635" width="3" height="4" fill="#00ff00"/><rect x="1252" y="631" width="3" height="4" fill="#00ff00"/><rect x="1268" y="620" width="3" height="15" fill="#00ff00"/><rect x="1284" y="612" width="3" height="23" fill="#00ff00"/><polyline points="5,669.0 21,668.0 37,666.0 53,665.0 69,664.0 85,664.0 101,663.0 117,664.0 133,666.0 149,670.5 165,673.0 181,675.0 197,677.0 213,679.0 229,680.0 245,682.0 261,682.0 277,683.0 293,683.0 309,682.0 325,683.0 341,684.0 357,684.0 373,684.0 389,686.0 405,687.0 421,689.5 437,693.4 453,696.4 469,699.5 485,701.0 501,703.4 517,705.2 533,707.2 549,708.7 565,709.5 581,709.5 597,707.7 613,706.0 629,703.7 645,701.0 661,698.3 677,696.0 693,692.2 709,689.1 725,685.3 741,681.4 757,676.1 773,670.7 789,665.3 805,661.5 821,656.9 837,653.0 853,650.7 869,646.9 885,642.3 901,637.6 917,633.0 933,629.5 949,625.0 965,623.0 981,621.5 997,620.7 1013,622.3 1029,623.8 1045,626.9 1061,630.7 1077,635.6 1093,640.3 1109,643.3 1125,645.3 1141,647.3 1157,648.0 1173,648.0 1189,648.0 1205,647.3 1221,645.6 1237,644.6 1253,643.0 1269,639.6 1285,634.6" fill="none" stroke="#ff0000" stroke-width="2" shape-rendering="crispEdges"/></g><g clip-path="url(#cr)"><line x1="0" y1="747.5" x2="1644" y2="747.5" stroke="#000" stroke-width="1" stroke-dasharray="3 3" shape-rendering="crispEdges"/><line x1="0" y1="779.5" x2="1644" y2="779.5" stroke="#000" stroke-width="1" stroke-dasharray="3 3" shape-rendering="crispEdges"/><line x1="0" y1="816.5" x2="1644" y2="816.5" stroke="#000" stroke-width="1" stroke-dasharray="3 3" shape-rendering="crispEdges"/><polyline points="5,779.6 21,787.8 37,789.6 53,785.8 69,785.5 85,784.5 101,792.7 117,792.7 133,791.9 149,797.8 165,788.1 181,788.1 197,788.1 213,789.6 229,789.6 245,783.0 261,792.0 277,792.0 293,788.0 309,793.0 325,793.0 341,793.8 357,785.8 373,789.5 389,793.0 405,797.6 421,798.1 437,802.7 453,798.4 469,786.9 485,790.7 501,792.0 517,792.0 533,791.0 549,793.0 565,794.5 581,788.0 597,788.0 613,785.8 629,788.9 645,788.9 661,784.1 677,788.9 693,783.0 709,782.7 725,780.4 741,773.8 757,773.8 773,780.7 789,780.7 805,780.7 821,776.9 837,779.6 853,781.8 869,768.9 885,768.9 901,766.9 917,765.8 933,774.1 949,780.7 965,783.3 981,786.7 997,786.9 1013,787.6 1029,784.6 1045,781.8 1061,788.9 1077,783.3 1093,783.0 1109,780.0 1125,784.9 1141,783.8 1157,779.2 1173,778.4 1189,777.6 1205,773.0 1221,776.5 1237,781.9 1253,771.1 1269,766.1 1285,766.9" fill="none" stroke="#1e90ff" stroke-width="2" shape-rendering="crispEdges"/></g><rect x="1645" y="35" width="3" height="1" fill="#000"/><rect x="1645" y="68" width="3" height="1" fill="#000"/><rect x="1645" y="101" width="3" height="1" fill="#000"/><rect x="1645" y="134" width="3" height="1" fill="#000"/><rect x="1645" y="167" width="3" height="1" fill="#000"/><rect x="1645" y="201" width="3" height="1" fill="#000"/><rect x="1645" y="234" width="3" height="1" fill="#000"/><rect x="1645" y="267" width="3" height="1" fill="#000"/><rect x="1645" y="300" width="3" height="1" fill="#000"/><rect x="1645" y="333" width="3" height="1" fill="#000"/><rect x="1645" y="366" width="3" height="1" fill="#000"/><rect x="1645" y="399" width="3" height="1" fill="#000"/><rect x="1645" y="432" width="3" height="1" fill="#000"/><rect x="1645" y="465" width="3" height="1" fill="#000"/><rect x="1645" y="498" width="3" height="1" fill="#000"/><rect x="1645" y="531" width="3" height="1" fill="#000"/><rect x="1645" y="564" width="3" height="1" fill="#000"/><rect x="1645" y="597" width="3" height="1" fill="#000"/><rect x="1645" y="604" width="2" height="1" fill="#000"/><rect x="1645" y="721" width="2" height="1" fill="#000"/><rect x="1645" y="635" width="2" height="1" fill="#000"/><rect x="1645" y="726" width="2" height="1" fill="#000"/><rect x="1645" y="832" width="2" height="1" fill="#000"/><rect x="5" y="834" width="1" height="3" fill="#000"/><rect x="69" y="834" width="1" height="3" fill="#000"/><rect x="133" y="834" width="1" height="3" fill="#000"/><rect x="197" y="834" width="1" height="3" fill="#000"/><rect x="261" y="834" width="1" height="3" fill="#000"/><rect x="325" y="834" width="1" height="3" fill="#000"/><rect x="389" y="834" width="1" height="3" fill="#000"/><rect x="453" y="834" width="1" height="3" fill="#000"/><rect x="517" y="834" width="1" height="3" fill="#000"/><rect x="581" y="834" width="1" height="3" fill="#000"/><rect x="645" y="834" width="1" height="3" fill="#000"/><rect x="709" y="834" width="1" height="3" fill="#000"/><rect x="773" y="834" width="1" height="3" fill="#000"/><rect x="837" y="834" width="1" height="3" fill="#000"/><rect x="901" y="834" width="1" height="3" fill="#000"/><rect x="965" y="834" width="1" height="3" fill="#000"/><rect x="1029" y="834" width="1" height="3" fill="#000"/><rect x="1093" y="834" width="1" height="3" fill="#000"/><rect x="1157" y="834" width="1" height="3" fill="#000"/><rect x="1221" y="834" width="1" height="3" fill="#000"/><rect x="1285" y="834" width="1" height="3" fill="#000"/>
</svg>
<div class="t" style="left:1650px;top:30px">0.66275</div><div class="t" style="left:1650px;top:63px">0.66115</div><div class="t" style="left:1650px;top:96px">0.65955</div><div class="t" style="left:1650px;top:129px">0.65795</div><div class="t" style="left:1650px;top:162px">0.65635</div><div class="t" style="left:1650px;top:196px">0.65480</div><div class="t" style="left:1650px;top:229px">0.65320</div><div class="t" style="left:1650px;top:262px">0.65160</div><div class="t" style="left:1650px;top:295px">0.65005</div><div class="t" style="left:1650px;top:328px">0.64845</div><div class="t" style="left:1650px;top:361px">0.64690</div><div class="t" style="left:1650px;top:394px">0.64530</div><div class="t" style="left:1650px;top:427px">0.64375</div><div class="t" style="left:1650px;top:460px">0.64215</div><div class="t" style="left:1650px;top:493px">0.64055</div><div class="t" style="left:1650px;top:526px">0.63900</div><div class="t" style="left:1650px;top:559px">0.63740</div><div class="t" style="left:1650px;top:592px">0.63580</div><div style="position:absolute;left:1646px;top:273px;width:41px;height:11px;background:#ff0000"></div><div class="t w" style="left:1650px;top:273px">0.65104</div><div style="position:absolute;left:1646px;top:305px;width:41px;height:11px;background:#ff0000"></div><div class="t w" style="left:1650px;top:305px">0.64952</div><div style="position:absolute;left:1646px;top:340px;width:41px;height:11px;background:#000"></div><div class="t w" style="left:1650px;top:340px">0.64790</div><div style="position:absolute;left:1646px;top:354px;width:41px;height:11px;background:#cd853f"></div><div class="t w" style="left:1650px;top:354px">0.64717</div><div style="position:absolute;left:1646px;top:389px;width:41px;height:11px;background:#0000ff"></div><div class="t w" style="left:1650px;top:389px">0.64550</div><div style="position:absolute;left:1646px;top:424px;width:41px;height:11px;background:#0000ff"></div><div class="t w" style="left:1650px;top:424px">0.64383</div><div class="t" style="left:1648px;top:604px">0.001181</div><div class="t" style="left:1648px;top:630px">0.00</div><div class="t" style="left:1648px;top:710px">-0.003225</div><div class="t" style="left:1648px;top:726px">100</div><div class="t" style="left:1647px;top:742px">80</div><div class="t" style="left:1647px;top:774px">50</div><div class="t" style="left:1647px;top:811px">15</div><div class="t" style="left:1647px;top:821px">0</div><div class="t" style="left:4px;top:837px">10 Aug 2023</div><div class="t" style="left:68px;top:837px">11 Aug 04:00</div><div class="t" style="left:132px;top:837px">13 Aug 23:00</div><div class="t" style="left:196px;top:837px">14 Aug 12:00</div><div class="t" style="left:260px;top:837px">15 Aug 04:00</div><div class="t" style="left:324px;top:837px">15 Aug 20:00</div><div class="t" style="left:388px;top:837px">16 Aug 12:00</div><div class="t" style="left:452px;top:837px">17 Aug 04:00</div><div class="t" style="left:516px;top:837px">17 Aug 20:00</div><div class="t" style="left:580px;top:837px">18 Aug 12:00</div><div class="t" style="left:644px;top:837px">21 Aug 04:00</div><div class="t" style="left:708px;top:837px">21 Aug 20:00</div><div class="t" style="left:772px;top:837px">22 Aug 12:00</div><div class="t" style="left:836px;top:837px">23 Aug 04:00</div><div class="t" style="left:900px;top:837px">23 Aug 20:00</div><div class="t" style="left:964px;top:837px">24 Aug 12:00</div><div class="t" style="left:1028px;top:837px">25 Aug 04:00</div><div class="t" style="left:1092px;top:837px">27 Aug 23:00</div><div class="t" style="left:1156px;top:837px">28 Aug 12:00</div><div class="t" style="left:1220px;top:837px">29 Aug 04:00</div><div class="t" style="left:1284px;top:837px">29 Aug 20:00</div><div class="t" style="left:20px;top:33px;letter-spacing:-0.3px">AUDUSD-,H4&nbsp; 0.64823 0.64830 0.64785 0.64790</div><div class="t" style="left:9px;top:606px;letter-spacing:-0.3px">MACD(12,26,9) 0.000856 0.000023</div><div class="t" style="left:9px;top:728px;letter-spacing:-0.3px">RSI(14) 61.5764</div>
</body></html>
